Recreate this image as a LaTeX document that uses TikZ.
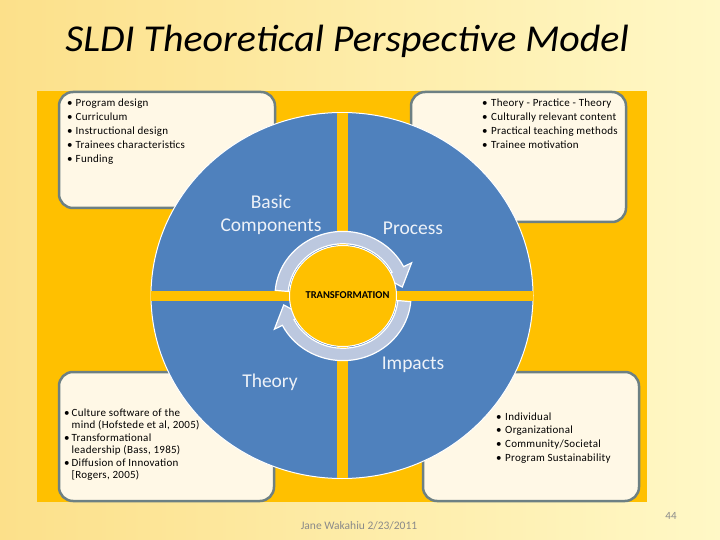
\documentclass[tikz,border=0pt]{standalone}
\usepackage{fontspec}
\setmainfont{Carlito}
\newfontfamily\listfont[LetterSpace=2.5]{Carlito}
\usepackage{tikz}
\usetikzlibrary{shapes.geometric}
\definecolor{panelgold}{HTML}{FFC000}
\definecolor{ringblue}{HTML}{4F81BD}
\definecolor{arrowgray}{HTML}{BCC8DF}
\definecolor{boxcream}{HTML}{FFF8E6}
\definecolor{boxedge}{HTML}{6D8083}
\definecolor{bgleft}{HTML}{FCE08A}
\definecolor{bgright}{HTML}{FFF8C6}
\definecolor{quadwhite}{HTML}{EEF2F8}
\definecolor{footgray}{HTML}{8A8A8A}
\newcommand{\itembul}[1][8.5pt]{\makebox[#1][l]{\textbullet}}

\begin{document}
\begin{tikzpicture}[x=1pt, y=-1pt,
  infobox/.style={draw=boxedge, line width=2.5pt, fill=boxcream, rounded corners=14pt},
  quadlbl/.style={font=\fontsize{19.5}{23}\selectfont, text=quadwhite, anchor=base, inner sep=0},
  listtxt/.style={font=\listfont\fontsize{11}{13.8}\selectfont, anchor=base west, inner sep=0},
  turnarrow/.style={fill=arrowgray, draw=white, line width=1.2pt},
  hub/.style={ellipse, fill=panelgold, draw=white, line width=1pt, minimum width=107pt, minimum height=101pt, inner sep=0}
]
  \useasboundingbox (0,0) rectangle (720,540);
  \shade[left color=bgleft, right color=bgright] (0,0) rectangle (720,540);
  \fill[panelgold] (37,91) rectangle (647,502);

  % corner boxes
  \draw[infobox] (59,92) rectangle (275,208);
  \draw[infobox] (411,92) rectangle (626,222);
  \draw[infobox] (59,372) rectangle (274,501);
  \draw[infobox] (423,372) rectangle (639,501);

  % wheel
  \fill[ringblue, draw=white, line width=1pt] (342,295.5) ellipse[x radius=191, y radius=183];
  \draw[panelgold, line width=9.5pt] (151,296) -- (533,296);
  \draw[panelgold, line width=10.5pt] (342.5,113) -- (342.5,478);

  \begin{scope}[shift={(343,296)}, yscale=-0.95]
    \filldraw[turnarrow] (175:68) arc[start angle=175, end angle=27, radius=68]
      -- (27:77) -- (9:60) -- (27:45) -- (27:55)
      arc[start angle=27, end angle=175, radius=55] -- cycle;
    \filldraw[turnarrow] (355:68) arc[start angle=355, end angle=207, radius=68]
      -- (207:77) -- (189:60) -- (207:45) -- (207:55)
      arc[start angle=207, end angle=355, radius=55] -- cycle;
  \end{scope}
  \node[hub] (transf) at (343,296) {};
  \node[font=\fontsize{10.5}{12}\selectfont\bfseries, anchor=base, inner sep=0] (transfTxt) at (347.5,298) {TRANSFORMATION};

  \node[quadlbl] (basic) at (271,209) {Basic};
  \node[quadlbl] (comp) at (271,232) {Components};
  \node[quadlbl] (process) at (413,235) {Process};
  \node[quadlbl] (theory) at (270,387) {Theory};
  \node[quadlbl] (impacts) at (413,369) {Impacts};

  % lists
  \node[listtxt] (compList) at (67,107) {\begin{tabular}[t]{@{}l@{}l@{}}
    \itembul & Program design\\
    \itembul & Curriculum\\
    \itembul & Instructional design\\
    \itembul & Trainees characteristics\\
    \itembul & Funding
  \end{tabular}};
  \node[listtxt] (procList) at (482,107) {\begin{tabular}[t]{@{}l@{}l@{}}
    \itembul[9pt] & Theory - Practice - Theory\\
    \itembul[9pt] & Culturally relevant content\\
    \itembul[9pt] & Practical teaching methods\\
    \itembul[9pt] & Trainee motivation
  \end{tabular}};
  \node[listtxt, font=\listfont\fontsize{11}{12.5}\selectfont] (theoList) at (64,416) {\begin{tabular}[t]{@{}l@{}l@{}}
    \itembul[7.5pt] & Culture software of the\\
     & mind (Hofstede et al, 2005)\\
    \itembul[7.5pt] & Transformational\\
     & leadership (Bass, 1985)\\
    \itembul[7.5pt] & Diffusion of Innovation\\
     & [Rogers, 2005)
  \end{tabular}};
  \node[listtxt] (impList) at (496,420) {\begin{tabular}[t]{@{}l@{}l@{}}
    \itembul[9pt] & Individual\\
    \itembul[9pt] & Organizational\\
    \itembul[9pt] & Community/Societal\\
    \itembul[9pt] & Program Sustainability
  \end{tabular}};

  % title and footer
  \node[font=\fontsize{38}{40}\selectfont\itshape, anchor=base, inner sep=0] (title) at (347,52) {\scalebox{1.05}[1]{SLDI Theoretical Perspective Model}};
  \node[font=\fontsize{11.5}{13}\selectfont, text=footgray, anchor=base, inner sep=0] (footer) at (359,529) {Jane Wakahiu 2/23/2011};
  \node[font=\fontsize{11}{13}\selectfont, text=footgray, anchor=base, inner sep=0] (pageno) at (671,519) {44};
\end{tikzpicture}
\end{document}
